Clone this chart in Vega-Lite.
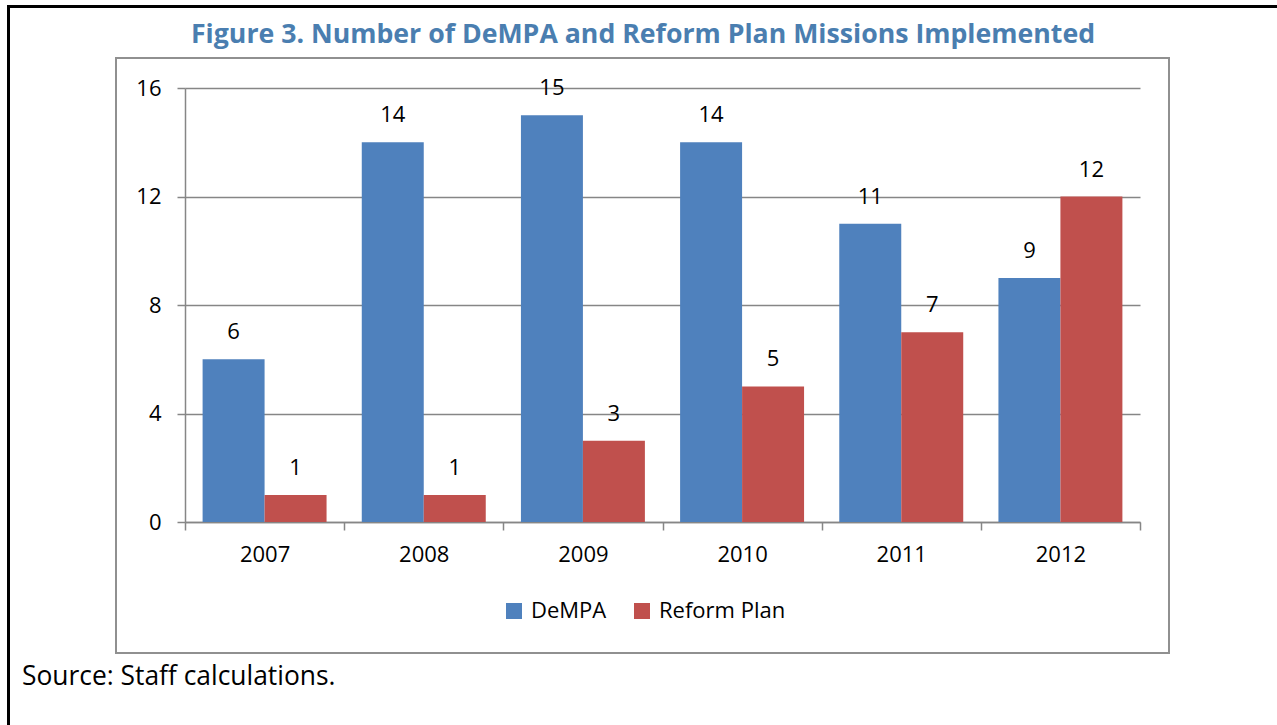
{
  "$schema": "https://vega.github.io/schema/vega-lite/v6.json",
  "width": 955,
  "height": 434,
  "autosize": "none",
  "padding": {"left": 185, "top": 88, "right": 137, "bottom": 203},
  "background": "white",
  "config": {"view": {"stroke": null}, "font": "Open Sans"},
  "data": {
    "values": [
      {"year": "2007", "series": "DeMPA", "value": 6},
      {"year": "2007", "series": "Reform Plan", "value": 1},
      {"year": "2008", "series": "DeMPA", "value": 14},
      {"year": "2008", "series": "Reform Plan", "value": 1},
      {"year": "2009", "series": "DeMPA", "value": 15},
      {"year": "2009", "series": "Reform Plan", "value": 3},
      {"year": "2010", "series": "DeMPA", "value": 14},
      {"year": "2010", "series": "Reform Plan", "value": 5},
      {"year": "2011", "series": "DeMPA", "value": 11},
      {"year": "2011", "series": "Reform Plan", "value": 7},
      {"year": "2012", "series": "DeMPA", "value": 9},
      {"year": "2012", "series": "Reform Plan", "value": 12}
    ]
  },
  "layer": [
    {
      "data": {"values": [{}]},
      "mark": {"type": "rect", "fill": null, "stroke": "black", "strokeWidth": 3},
      "encoding": {
        "x": {"value": -176.5},
        "x2": {"value": 1200},
        "y": {"value": -81.5},
        "y2": {"value": 800}
      }
    },
    {
      "data": {"values": [{}]},
      "mark": {"type": "rect", "fill": null, "stroke": "#909090", "strokeWidth": 2},
      "encoding": {
        "x": {"value": -69},
        "x2": {"value": 984},
        "y": {"value": -30},
        "y2": {"value": 565}
      }
    },
    {
      "data": {"values": [{}]},
      "mark": {"type": "text", "text": "Figure 3. Number of DeMPA and Reform Plan Missions Implemented", "align": "center", "baseline": "alphabetic", "fontSize": 26.7, "fontWeight": "bold", "color": "#4a7eb0"},
      "encoding": {
        "x": {"value": 458},
        "y": {"value": -45}
      }
    },
    {
      "data": {"values": [{}]},
      "mark": {"type": "text", "text": "Source: Staff calculations.", "align": "left", "baseline": "alphabetic", "fontSize": 26.4, "color": "black"},
      "encoding": {
        "x": {"value": -163},
        "y": {"value": 597}
      }
    },
    {
      "mark": {"type": "bar"},
      "encoding": {
        "x": {
          "field": "year",
          "type": "nominal",
          "scale": {"paddingInner": 0, "paddingOuter": 0},
          "axis": {
            "title": null,
            "labelAngle": 0,
            "labelFontSize": 22,
            "labelColor": "black",
            "labelPadding": 14,
            "tickBand": "extent",
            "tickSize": 8,
            "tickColor": "#868686",
            "tickWidth": 1.5,
            "domainColor": "#868686",
            "domainWidth": 1.5
          }
        },
        "xOffset": {
          "field": "series",
          "type": "nominal",
          "scale": {"paddingInner": 0, "paddingOuter": 0.284}
        },
        "y": {
          "field": "value",
          "type": "quantitative",
          "scale": {"domain": [0, 16]},
          "axis": {
            "title": null,
            "values": [0, 4, 8, 12, 16],
            "labelFontSize": 22,
            "labelColor": "black",
            "labelPadding": 16,
            "tickSize": 8,
            "tickColor": "#868686",
            "tickWidth": 1.5,
            "domainColor": "#868686",
            "domainWidth": 1.5,
            "grid": true,
            "gridColor": "#868686",
            "gridWidth": 1.5
          }
        },
        "color": {
          "field": "series",
          "type": "nominal",
          "scale": {"domain": ["DeMPA", "Reform Plan"], "range": ["#4f81bd", "#c0504d"]},
          "legend": {
            "title": null,
            "orient": "none",
            "direction": "horizontal",
            "legendX": 318,
            "legendY": 512,
            "symbolType": "square",
            "symbolSize": 256,
            "symbolStrokeWidth": 0,
            "labelFontSize": 22,
            "labelColor": "black",
            "labelOffset": 6,
            "columnPadding": 24
          }
        }
      }
    },
    {
      "mark": {"type": "text", "baseline": "alphabetic", "dy": -20, "fontSize": 22, "color": "black"},
      "encoding": {
        "x": {"field": "year", "type": "nominal"},
        "xOffset": {"field": "series", "type": "nominal"},
        "y": {"field": "value", "type": "quantitative"},
        "text": {"field": "value", "type": "quantitative"}
      }
    }
  ]
}
